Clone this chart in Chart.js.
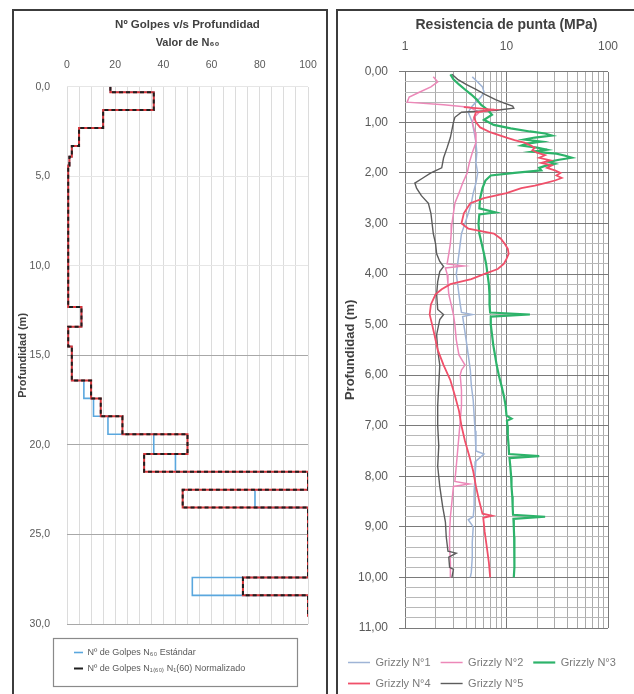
<!DOCTYPE html>
<html><head><meta charset="utf-8">
<script src="https://cdn.jsdelivr.net/npm/chart.js@4.4.1/dist/chart.umd.min.js"></script>
<style>
html,body{margin:0;padding:0;background:#fff;overflow:hidden;width:634px;height:694px;}
.panel{position:absolute;border:2px solid #3c3c3c;box-sizing:border-box;}
canvas{position:absolute;}
</style></head><body>
<div class="panel" style="left:12px;top:9px;width:316px;height:700px;"></div>
<div class="panel" style="left:336px;top:9px;width:310px;height:700px;"></div>
<canvas id="cL" width="311" height="680" style="left:14px;top:11px;width:311px;height:680px"></canvas>
<canvas id="cR" width="296" height="691" style="left:338px;top:11px;width:296px;height:691px"></canvas>
<script>
// ---------- Left chart data (SPT step profile) ----------
const sptTop    = [0.0,0.3,1.3,2.3,3.3,3.9,4.4,12.3,13.4,14.5,16.4,17.4,18.4,19.4,20.5,21.5,22.5,23.5,27.4,28.4];
const sptBottom = [0.3,1.3,2.3,3.3,3.9,4.4,12.3,13.4,14.5,16.4,17.4,18.4,19.4,20.5,21.5,22.5,23.5,27.4,28.4,29.6];
const n60Std    = [18,36,15,5,2,1,0.5,6,0.5,2,7,11,17,36,45,100,78,100,52,100];
const n160Norm  = [18,36,15,5,2,1,0.5,6,0.5,2,10,14,23,50,32,100,48,100,73,100];
const leftLabels = ['Nº de Golpes N₆₀ Estándar', 'Nº de Golpes N₁₍₆₀₎ N₁(60) Normalizado'];
const leftXTickLabels = [0,20,40,60,80,100];

// ---------- Right chart data (cone resistance profiles) ----------
const g1Depth = [0.10,0.20,0.30,0.40,0.50,0.60,0.70,0.80,0.90,1.00,
  1.20,1.40,1.60,1.80,2.00,2.20,2.40,2.60,2.80,3.00,
  3.20,3.40,3.60,3.80,4.00,4.20,4.40,4.60,4.76,4.80,
  4.84,5.00,5.30,5.60,5.90,6.20,6.50,6.80,7.10,7.40,
  7.50,7.56,7.70,8.00,8.30,8.60,8.80,8.86,9.00,9.30,
  9.60,9.90,10.00];
const g1Qc = [4.6,5.2,5.8,6.0,5.6,5.0,4.5,4.2,4.4,4.6,
  4.8,5.0,5.1,5.0,5.2,5.0,4.7,4.5,4.2,3.9,
  3.6,3.5,3.4,3.3,3.2,3.3,3.4,3.5,3.6,4.6,
  3.7,3.8,4.0,4.2,4.4,4.5,4.7,4.8,4.9,5.0,
  5.0,6.0,5.0,4.9,4.8,4.8,4.7,4.2,4.7,4.6,
  4.6,4.5,4.4];
const g2Depth = [0.10,0.20,0.30,0.40,0.50,0.60,0.65,0.70,0.80,0.90,
  1.00,1.20,1.40,1.60,1.80,2.00,2.20,2.40,2.60,2.80,
  3.00,3.20,3.40,3.60,3.80,3.84,3.88,4.00,4.20,4.40,
  4.60,4.80,5.00,5.30,5.60,5.80,5.90,6.00,6.30,6.60,
  6.90,7.20,7.50,7.80,8.10,8.15,8.20,8.50,8.80,9.10,
  9.40,9.70,10.00];
const g2Qc = [1.9,2.1,1.8,1.4,1.1,1.05,2.4,4.3,5.4,4.8,
  4.6,4.9,5.0,4.6,4.3,4.1,3.7,3.4,3.1,3.0,
  2.9,2.85,2.8,2.7,2.6,3.8,2.5,2.6,2.65,2.7,
  2.85,3.0,3.1,3.2,3.4,3.9,3.6,3.5,3.6,3.6,
  3.5,3.4,3.3,3.2,3.1,4.3,3.0,2.9,2.8,2.75,
  2.75,2.8,2.8];
const g3Depth = [0.05,0.15,0.25,0.35,0.45,0.55,0.65,0.75,0.85,0.95,
  1.05,1.12,1.18,1.22,1.26,1.30,1.34,1.38,1.42,1.46,
  1.50,1.54,1.58,1.62,1.66,1.70,1.74,1.78,1.82,1.86,
  1.90,1.95,2.00,2.05,2.15,2.30,2.50,2.70,2.78,2.82,
  3.00,3.20,3.40,3.60,3.80,4.00,4.20,4.40,4.60,4.76,
  4.80,4.84,5.00,5.20,5.40,5.60,5.80,6.00,6.20,6.40,
  6.60,6.80,6.86,6.90,7.00,7.20,7.40,7.56,7.60,7.64,
  7.80,8.00,8.20,8.40,8.60,8.76,8.80,8.84,9.00,9.20,
  9.40,9.60,9.80,10.00];
const g3Qc = [2.8,3.0,3.4,3.9,4.5,5.1,5.6,6.5,7.2,6.0,
  7.5,11,17,24,28,19,15,22,16,14,
  20,25,18,31,38,44,33,26,30,24,
  21,22,12,7.0,6.2,5.8,5.5,5.4,7.8,5.4,
  5.3,5.4,5.7,6.0,6.3,6.5,6.7,6.8,6.8,6.9,
  17,7.0,7.0,7.2,7.4,7.7,8.0,8.4,8.9,9.4,
  9.8,10.0,11.2,10.1,10.2,10.3,10.5,10.6,21,10.7,
  10.9,11.1,11.2,11.4,11.5,11.6,24,11.7,11.8,11.9,
  12.0,12.0,11.9,11.8];
const g4Depth = [0.70,0.75,0.80,0.90,1.00,1.10,1.20,1.30,1.35,1.40,
  1.45,1.50,1.55,1.60,1.65,1.70,1.75,1.80,1.85,1.90,
  1.95,2.00,2.05,2.10,2.15,2.20,2.25,2.30,2.40,2.50,
  2.60,2.80,3.00,3.10,3.20,3.30,3.40,3.50,3.60,3.70,
  3.80,3.90,4.00,4.10,4.20,4.30,4.40,4.60,4.80,5.00,
  5.20,5.50,5.80,6.10,6.40,6.70,7.00,7.30,7.60,7.90,
  8.20,8.50,8.74,8.78,8.82,9.10,9.40,9.70,10.00];
const g4Qc = [3.8,7.5,5.0,4.8,5.0,5.5,7.0,10,12,15,
  17,19,18,20,24,21,27,22,28,25,
  30,34,31,35,30,24,19,14,10,6.0,
  4.4,3.8,3.6,4.2,7.5,8.8,9.6,10.3,10.5,10.0,
  9.4,8.2,6.0,4.5,2.8,2.3,2.0,1.8,1.75,1.85,
  1.95,2.1,2.4,2.8,3.1,3.4,3.6,3.9,4.3,4.7,
  5.0,5.4,5.8,7.2,5.9,6.1,6.4,6.7,6.9];
const g5Depth = [0.05,0.15,0.25,0.35,0.45,0.55,0.62,0.68,0.72,0.76,
  0.80,0.90,1.00,1.15,1.30,1.50,1.70,1.90,2.00,2.10,
  2.20,2.30,2.45,2.60,2.80,3.00,3.20,3.40,3.60,3.75,
  3.85,3.95,4.15,4.40,4.70,4.80,4.90,5.20,5.50,5.80,
  6.20,6.60,7.00,7.40,7.80,8.20,8.60,8.90,9.20,9.48,
  9.52,9.60,9.80,9.84,10.00];
const g5Qc = [2.9,3.3,4.0,5.0,6.2,7.8,9.5,11.5,11.8,8.0,
  3.6,3.1,3.0,2.9,2.8,2.6,2.4,2.3,1.8,1.5,
  1.25,1.3,1.45,1.7,1.8,1.85,1.9,2.0,2.05,2.2,
  2.4,2.2,2.1,2.05,2.1,2.4,2.2,2.05,2.1,2.2,
  2.15,2.1,2.1,2.15,2.1,2.2,2.35,2.5,2.55,2.65,
  3.2,2.7,2.75,3.0,2.9];
const rightLabels = ['Grizzly N°1','Grizzly N°2','Grizzly N°3','Grizzly N°4','Grizzly N°5'];
const qcGridValues = [1,2,3,4,5,6,7,8,9,10,20,30,40,50,60,70,80,90,100];
const qcTickLabels = [1,10,100];

// ---------- helpers ----------
const FONT = "'Liberation Sans', Arial, sans-serif";
Chart.defaults.font.family = FONT;
function stepPoints(tops, bottoms, vals){
  const pts = [];
  for (let i = 0; i < vals.length; i++){
    pts.push({x: vals[i], y: tops[i]});
    pts.push({x: vals[i], y: bottoms[i]});
  }
  return pts;
}
function profile(depths, qc){
  const n = Math.min(depths.length, qc.length);
  const pts = [];
  for (let i = 0; i < n; i++) pts.push({x: qc[i], y: depths[i]});
  return pts;
}
const legendFrame = {
  id: 'legendFrame',
  afterDraw(chart, args, o){
    if (!o || !o.rect) return;
    const c = chart.ctx;
    c.save(); c.strokeStyle = o.color; c.lineWidth = o.width;
    c.strokeRect(o.rect[0], o.rect[1], o.rect[2], o.rect[3]);
    c.restore();
  }
};
const dummyAxis = (pos, size) => ({
  type: 'linear', position: pos, display: true,
  ticks: {display: false}, grid: {display: false, drawTicks: false}, border: {display: false},
  afterFit: s => { if (pos === 'bottom' || pos === 'top') s.height = size; else s.width = size; }
});

// ---------- Left chart ----------
new Chart(document.getElementById('cL'), {
  type: 'scatter',
  data: { datasets: [
    { label: leftLabels[0], data: stepPoints(sptTop, sptBottom, n60Std), showLine: true,
      borderColor: '#5aa7de', backgroundColor: '#5aa7de', borderWidth: 1.6, pointRadius: 0, order: 3 },
    { label: leftLabels[1], data: stepPoints(sptTop, sptBottom, n160Norm), showLine: true,
      borderColor: '#1f1f1f', backgroundColor: '#1f1f1f', borderWidth: 2, borderDash: [4, 3], pointRadius: 0, order: 1 },
    { label: 'underlay', data: stepPoints(sptTop, sptBottom, n160Norm), showLine: true,
      borderColor: '#d8363a', backgroundColor: '#d8363a', borderWidth: 2, pointRadius: 0, order: 2 }
  ]},
  options: {
    responsive: false, animation: false, events: [],
    layout: { padding: { left: 0, right: 0, top: 0, bottom: 8 } },
    plugins: {
      title: { display: true, text: 'Nº Golpes v/s Profundidad', fullSize: false, color: '#404040',
        font: { size: 11.5, weight: 'bold' }, padding: { top: 7, bottom: 0 } },
      legend: { position: 'bottom', align: 'start', fullSize: false,
        labels: { usePointStyle: true, pointStyle: 'line', pointStyleWidth: 9, padding: 7,
          color: '#595959', font: { size: 9 },
          filter: it => it.datasetIndex !== 2, sort: (a, b) => a.datasetIndex - b.datasetIndex } },
      tooltip: { enabled: false },
      legendFrame: { rect: [39.5, 627.5, 244, 48], color: '#8a8a8a', width: 1.2 }
    },
    scales: {
      x: { type: 'linear', position: 'top', min: 0, max: 100,
        title: { display: true, text: 'Valor de N₆₀', color: '#404040', font: { size: 11, weight: 'bold' }, padding: { top: 5, bottom: 0 } },
        ticks: { stepSize: 5, autoSkip: false, maxRotation: 0, padding: 2, color: '#595959', font: { size: 10.5 },
          callback: v => leftXTickLabels.includes(v) ? String(v) : '' },
        grid: { color: '#dcdcdc', drawTicks: true, tickLength: 13, tickColor: 'rgba(0,0,0,0)' }, border: { display: false },
        afterFit: s => { s.height = 55; } },
      y: { type: 'linear', reverse: true, min: 0, max: 30,
        title: { display: true, text: 'Profundidad (m)', color: '#404040', font: { size: 11, weight: 'bold' }, padding: { top: 2, bottom: 0 } },
        ticks: { stepSize: 5, autoSkip: false, padding: 17, color: '#595959', font: { size: 10.5 },
          callback: v => v.toFixed(1).replace('.', ',') },
        grid: { color: c => (c.tick && c.tick.value >= 15) ? '#a8a8a8' : '#e6e6e6', drawTicks: false }, border: { display: false },
        afterFit: s => { s.width = 53; } },
      yr: dummyAxis('right', 17),
      xb: dummyAxis('bottom', 17)
    }
  },
  plugins: [legendFrame]
});

// ---------- Right chart ----------
const isInt = v => Math.abs(v - Math.round(v)) < 1e-6;
new Chart(document.getElementById('cR'), {
  type: 'scatter',
  data: { datasets: [
    { label: rightLabels[0], data: profile(g1Depth, g1Qc), showLine: true, borderColor: '#9fb4d6', backgroundColor: '#9fb4d6', borderWidth: 1.5, pointRadius: 0, order: 4 },
    { label: rightLabels[1], data: profile(g2Depth, g2Qc), showLine: true, borderColor: '#ec88b8', backgroundColor: '#ec88b8', borderWidth: 1.5, pointRadius: 0, order: 3 },
    { label: rightLabels[2], data: profile(g3Depth, g3Qc), showLine: true, borderColor: '#2db36a', backgroundColor: '#2db36a', borderWidth: 2.2, pointRadius: 0, order: 1 },
    { label: rightLabels[3], data: profile(g4Depth, g4Qc), showLine: true, borderColor: '#f0506a', backgroundColor: '#f0506a', borderWidth: 1.8, pointRadius: 0, order: 0 },
    { label: rightLabels[4], data: profile(g5Depth, g5Qc), showLine: true, borderColor: '#5c5c5c', backgroundColor: '#5c5c5c', borderWidth: 1.4, pointRadius: 0, order: 2 }
  ]},
  options: {
    responsive: false, animation: false, events: [],
    layout: { padding: { left: 0, right: 0, top: 0, bottom: 3 } },
    plugins: {
      title: { display: true, text: 'Resistencia de punta (MPa)', fullSize: false, color: '#404040',
        font: { size: 14, weight: 'bold' }, padding: { top: 6, bottom: 0 } },
      legend: { position: 'bottom', align: 'start',
        labels: { usePointStyle: true, pointStyle: 'line', pointStyleWidth: 22, padding: 10,
          color: '#7a7a7a', font: { size: 11 }, sort: (a, b) => a.datasetIndex - b.datasetIndex } },
      tooltip: { enabled: false }
    },
    scales: {
      x: { type: 'logarithmic', position: 'top', min: 1, max: 100,
        afterBuildTicks: s => { s.ticks = qcGridValues.map(v => ({ value: v })); },
        ticks: { autoSkip: false, maxRotation: 0, padding: 2, color: '#595959', font: { size: 12 },
          callback: v => qcTickLabels.includes(v) ? String(v) : '' },
        grid: { color: c => (c.tick && qcTickLabels.includes(c.tick.value)) ? '#7a7a7a' : '#ababab',
          drawTicks: true, tickLength: 16, tickColor: 'rgba(0,0,0,0)' },
        border: { display: false },
        afterFit: s => { s.height = 38; } },
      y: { type: 'linear', reverse: true, min: 0, max: 11,
        title: { display: true, text: 'Profundidad (m)', color: '#404040', font: { size: 13, weight: 'bold' }, padding: { top: 5, bottom: 0 } },
        ticks: { stepSize: 0.2, autoSkip: false, padding: 11, color: '#595959', font: { size: 12 },
          callback: v => isInt(v) ? Math.round(v).toFixed(2).replace('.', ',') : '' },
        grid: { color: c => (c.tick && isInt(c.tick.value)) ? '#7a7a7a' : '#b8b8b8',
          tickColor: c => (c.tick && isInt(c.tick.value)) ? '#7a7a7a' : 'rgba(0,0,0,0)', tickLength: 6 },
        border: { display: false },
        afterFit: s => { s.width = 67; } },
      yr: dummyAxis('right', 26),
      xb: dummyAxis('bottom', 19)
    }
  }
});
</script>
</body></html>
